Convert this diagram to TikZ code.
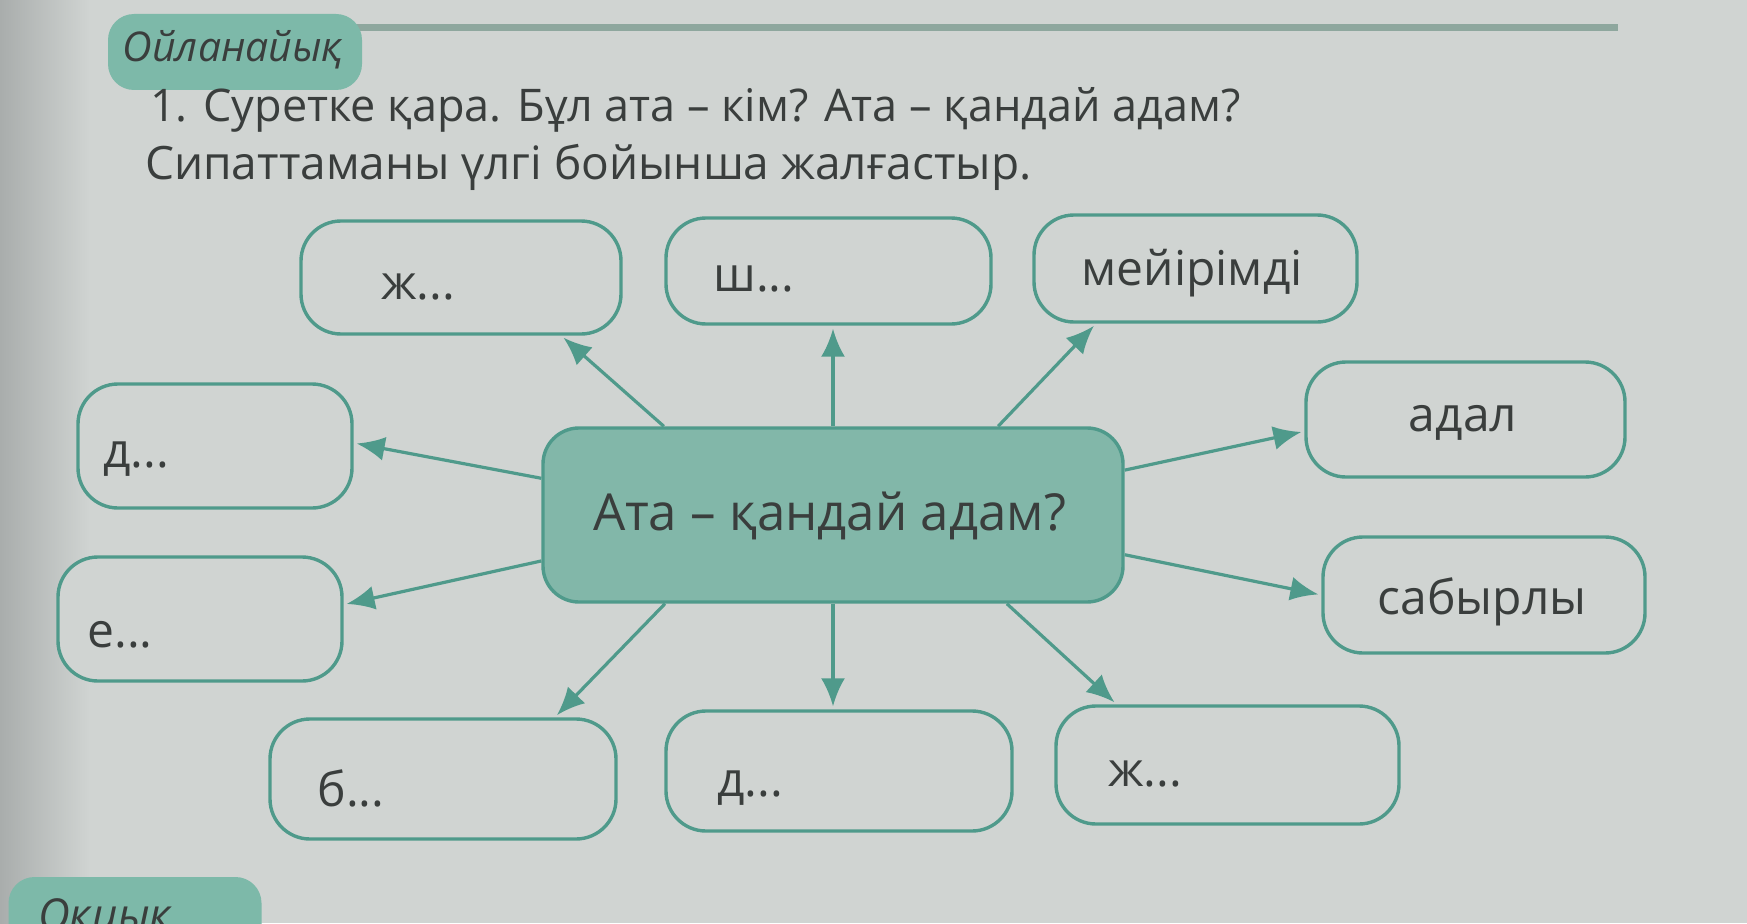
\documentclass[tikz,border=0pt]{standalone}
\usepackage{fontspec}
\setmainfont{Open Sans}
\usetikzlibrary{calc,arrows.meta}
\definecolor{bgc}{HTML}{D0D4D2}
\definecolor{edgec}{HTML}{A9ADAC}
\definecolor{tealline}{HTML}{4F9A8B}
\definecolor{tealfill}{HTML}{82B7A9}
\definecolor{tabc}{HTML}{7DB9A9}
\definecolor{hline}{HTML}{8EA79E}
\definecolor{txt}{HTML}{3A3E3D}
\tikzset{
  box/.style={draw=tealline, line width=3.4pt, rounded corners=40pt, fill=bgc},
  cbox/.style={draw=tealline, line width=3.4pt, rounded corners=36pt, fill=tealfill},
  lbl/.style={text=txt, font=\fontsize{48}{56}\selectfont, inner sep=0pt},
  arr/.style={draw=tealline, line width=3.2pt, -{Latex[length=28pt,width=24pt]}, shorten >=3pt},
}
\begin{document}
\begin{tikzpicture}[x=1pt,y=-1pt]
\useasboundingbox (0,0) rectangle (1747,923);
\clip (0,0) rectangle (1747,923);
\fill[bgc] (0,0) rectangle (1747,923);
\shade[left color=edgec, right color=bgc] (0,0) rectangle (90,923);

% header
\fill[hline] (350,24) rectangle (1618,31);
\node[fill=tabc, rounded corners=26pt, minimum width=254, minimum height=76, inner sep=0pt] (tab) at (235,52) {};
\node[text=txt, font=\fontsize{41}{48}\selectfont\itshape, inner sep=0pt] (tabt) at (233,50) {Ойланайық};
\node[lbl, anchor=west, font=\fontsize{45}{54}\selectfont] (q1) at (150,110) {1. Суретке қара. Бұл ата – кім? Ата – қандай адам?};
\node[lbl, anchor=west, font=\fontsize{46}{54}\selectfont] (q2) at (145,167) {Сипаттаманы үлгі бойынша жалғастыр.};

% boxes
\node[box, minimum width=320, minimum height=113] (zh1) at (461,277.5) {};
\node[box, minimum width=325, minimum height=106] (sh) at (828.5,271) {};
\node[box, minimum width=323, minimum height=107] (mei) at (1195.5,268.5) {};
\node[box, minimum width=274, minimum height=124] (d1) at (215,446) {};
\node[box, minimum width=319, minimum height=115] (adal) at (1465.5,419.5) {};
\node[cbox, minimum width=580, minimum height=174] (c) at (833,515) {};
\node[box, minimum width=284, minimum height=124] (e) at (200,619) {};
\node[box, minimum width=322, minimum height=116] (sab) at (1484,595) {};
\node[box, minimum width=346, minimum height=120] (b) at (443,779) {};
\node[box, minimum width=346, minimum height=120] (dd) at (839,771) {};
\node[box, minimum width=343, minimum height=118] (zh2) at (1227.5,765) {};

% labels
\node[lbl] (tzh1) at (418,287) {ж...};
\node[lbl] (tsh) at (754,279) {ш...};
\node[lbl] (tmei) at (1192,273) {мейірімді};
\node[lbl] (td1) at (136,459) {д...};
\node[lbl] (tadal) at (1463,423) {адал};
\node[lbl, font=\fontsize{51}{60}\selectfont] (tc) at (830,516) {Ата – қандай адам?};
\node[lbl] (te) at (120,635) {е...};
\node[lbl] (tsab) at (1482,602) {сабырлы};
\node[lbl] (tb) at (351,788) {б...};
\node[lbl] (tdd) at (750,788) {д...};
\node[lbl] (tzh2) at (1145,774) {ж...};

% arrows
\draw[arr] ($(c.north west)!0.21!(c.north east)$) -- ($(zh1.south west)!0.81!(zh1.south east)$);
\draw[arr] (c.north) -- (c.north |- sh.south);
\draw[arr] ($(c.north west)!0.783!(c.north east)$) -- ($(mei.south west)!0.195!(mei.south east)$);
\draw[arr] ($(c.north west)!0.293!(c.south west)$) -- ($(d1.north east)!0.476!(d1.south east)$);
\draw[arr] ($(c.north east)!0.247!(c.south east)$) -- ($(adal.north west)!0.6!(adal.south west)$);
\draw[arr] ($(c.north west)!0.759!(c.south west)$) -- ($(e.north east)!0.387!(e.south east)$);
\draw[arr] ($(c.north east)!0.724!(c.south east)$) -- (sab.west);
\draw[arr] ($(c.south west)!0.212!(c.south east)$) -- ($(b.north west)!0.82!(b.north east)$);
\draw[arr] (c.south) -- (c.south |- dd.north);
\draw[arr] ($(c.south west)!0.798!(c.south east)$) -- ($(zh2.north west)!0.18!(zh2.north east)$);

% bottom tab
\node[fill=tabc, rounded corners=26pt, minimum width=253, minimum height=100, inner sep=0pt] (tab2) at (135,927) {};
\node[text=txt, font=\fontsize{44}{52}\selectfont\itshape, inner sep=0pt, anchor=north west] (tab2t) at (38,898) {Оқиық};
\end{tikzpicture}
\end{document}
